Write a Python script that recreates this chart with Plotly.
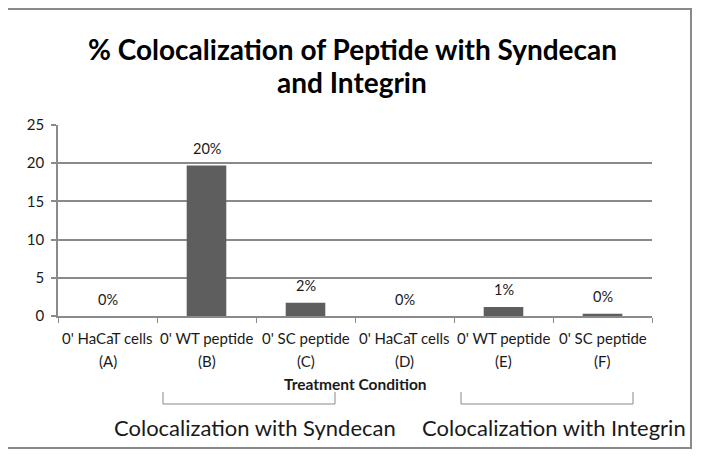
import plotly.graph_objects as go

# ---- data ----
categories = ["0' HaCaT cells", "0' WT peptide", "0' SC peptide",
              "0' HaCaT cells", "0' WT peptide", "0' SC peptide"]
letters = ["(A)", "(B)", "(C)", "(D)", "(E)", "(F)"]
values = [0, 19.7, 1.75, 0, 1.18, 0.3]
value_labels = ["0%", "20%", "2%", "0%", "1%", "0%"]
y_ticks = [0, 5, 10, 15, 20, 25]
group_labels = ["Colocalization with Syndecan", "Colocalization with Integrin"]
title_lines = ["% Colocalization of Peptide with Syndecan", "and Integrin"]
x_title = "Treatment Condition"

# ---- layout geometry (target window pixels) ----
OFF = 8                      # page body margin
FW, FH = 701 - 2 * OFF, 458 - 2 * OFF
L, R, T, B = 58, 652, 125, 316
FONT = "Lato, 'Open Sans', sans-serif"
GRAY = "#8a8a8a"
TXT = "#1a1a1a"


def px_x(px):
    return (px - L) / (R - L)


def px_y(py):
    return (B - py) / (B - T)


fig = go.Figure()
fig.add_trace(go.Bar(
    x=letters, y=values, width=0.4,
    marker=dict(color="#5e5e5e", line=dict(width=0)),
    hoverinfo="skip", showlegend=False,
))

annotations = []
for c, v, lab in zip(letters, values, value_labels):
    annotations.append(dict(x=c, y=v, xref="x", yref="y", text=lab, showarrow=False,
                            yshift=17, yanchor="middle", xanchor="center",
                            font=dict(family=FONT, size=14.5, color=TXT)))
for c, name in zip(letters, categories):
    annotations.append(dict(x=c, y=px_y(338), xref="x", yref="paper", text=name,
                            showarrow=False, yanchor="middle", xanchor="center",
                            font=dict(family=FONT, size=15, color=TXT)))
    annotations.append(dict(x=c, y=px_y(361), xref="x", yref="paper", text=c,
                            showarrow=False, yanchor="middle", xanchor="center",
                            font=dict(family=FONT, size=15, color=TXT)))
annotations.append(dict(x=px_x(355), y=px_y(384), xref="paper", yref="paper",
                        text="<b>" + x_title + "</b>", showarrow=False,
                        yanchor="middle", xanchor="center",
                        font=dict(family=FONT, size=15.5, color=TXT)))
for cx, txt in zip([255, 554], group_labels):
    annotations.append(dict(x=px_x(cx), y=px_y(427), xref="paper", yref="paper",
                            text=txt, showarrow=False, yanchor="middle", xanchor="center",
                            font=dict(family=FONT, size=22, color=TXT)))
for cy, txt in zip([49, 82], title_lines):
    annotations.append(dict(x=px_x(352), y=px_y(cy), xref="paper", yref="paper",
                            text="<b>" + txt + "</b>", showarrow=False,
                            yanchor="middle", xanchor="center",
                            font=dict(family=FONT, size=28, color="#000000")))

shapes = [
    dict(type="rect", xref="paper", yref="paper",
         x0=px_x(7), x1=px_x(691), y0=px_y(448), y1=px_y(9),
         line=dict(color=GRAY, width=2), fillcolor="rgba(0,0,0,0)", layer="below"),
]
for x0, x1 in [(163, 335), (461, 633)]:
    path = "M {a},{t} L {a},{b} L {c},{b} L {c},{t}".format(
        a=px_x(x0), c=px_x(x1), t=px_y(392), b=px_y(404))
    shapes.append(dict(type="path", xref="paper", yref="paper", path=path,
                       line=dict(color=GRAY, width=1)))

fig.update_layout(
    width=FW, height=FH,
    margin=dict(l=L - OFF, r=FW - (R - OFF), t=T - OFF, b=FH - (B - OFF), pad=0),
    paper_bgcolor="white", plot_bgcolor="white",
    bargap=0.6,
    annotations=annotations,
    shapes=shapes,
    xaxis=dict(type="category", showticklabels=False, tickson="boundaries",
               ticks="outside", ticklen=5, tickcolor=GRAY, tickwidth=1,
               showline=True, linecolor=GRAY, linewidth=1.5,
               showgrid=False, automargin=False, fixedrange=True),
    yaxis=dict(range=[0, 25], tickvals=y_ticks, ticks="outside", ticklen=5,
               tickcolor=GRAY, tickwidth=1.5, showline=True, linecolor=GRAY, linewidth=1.5,
               showgrid=True, gridcolor=GRAY, gridwidth=1.5, zeroline=False,
               ticklabelstandoff=4,
               tickfont=dict(family=FONT, size=15, color=TXT),
               automargin=False, fixedrange=True),
)

fig.write_html("out.html")
